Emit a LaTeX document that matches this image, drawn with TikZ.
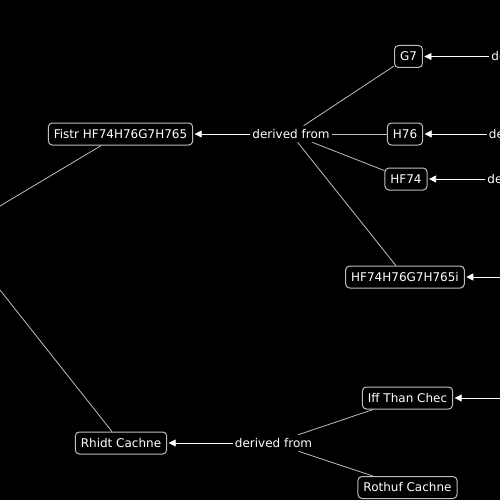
\documentclass[tikz,border=0pt]{standalone}
\usepackage{fontspec}
\setmainfont{DejaVu Sans}
\usetikzlibrary{arrows.meta}
\definecolor{mygray}{RGB}{190,190,190}

\begin{document}
\begin{tikzpicture}[x=1pt,y=-1pt,
  concept/.style={draw=mygray, line width=1pt, rounded corners=4pt, text=white,
    inner xsep=5.5pt, minimum height=22pt, font=\fontsize{12pt}{14pt}\selectfont},
  rel/.style={fill=black, text=white, inner xsep=2pt, inner ysep=3.5pt,
    font=\fontsize{12pt}{14pt}\selectfont},
  link/.style={draw=mygray, line width=0.8pt},
  derive/.style={draw=white, line width=0.8pt, -{Triangle[length=7pt,width=7pt]}, shorten >=1.5pt}]
  \useasboundingbox (0,0) rectangle (500,500);
  \fill[black] (0,0) rectangle (500,500);
  \clip (0,0) rectangle (500,500);

  % Concepts
  \node[concept] (fistr) at (120.5,134) {Fistr HF74H76G7H765};
  \node[concept] (g7) at (408.5,56.5) {G7};
  \node[concept] (h76) at (405,134) {H76};
  \node[concept] (hf74) at (406,179) {HF74};
  \node[concept] (hfi) at (405,277) {HF74H76G7H765i};
  \node[concept] (rhidt) at (121,443) {Rhidt Cachne};
  \node[concept] (iff) at (407.5,398) {Iff Than Chec};
  \node[concept] (rothuf) at (407.5,487.5) {Rothuf Cachne};

  % Relation labels
  \node[rel] (reltop) at (291,134) {derived from};
  \node[rel] (relbot) at (273.5,443) {derived from};
  \node[rel] (relg7) at (530,56.5) {derived from};
  \node[rel] (relh76) at (527.5,134) {derived from};
  \node[rel] (relhf74) at (526,179) {derived from};

  % Free ends beyond the edges
  \coordinate (lfta) at (0,206);
  \coordinate (lftb) at (0,290);
  \coordinate (rthfi) at (500,277);
  \coordinate (rtiff) at (500,398);

  % Links
  \draw[link] (lfta) -- (fistr);
  \draw[link] (lftb) -- (rhidt);
  \draw[link] (reltop) -- (g7);
  \draw[link] (reltop) -- (h76);
  \draw[link] (reltop) -- (hf74);
  \draw[link] (reltop) -- (hfi);
  \draw[link] (relbot) -- (iff);
  \draw[link] (relbot) -- (rothuf);

  % Arrows
  \draw[derive] (reltop) -- (fistr);
  \draw[derive] (relbot) -- (rhidt);
  \draw[derive] (relg7) -- (g7);
  \draw[derive] (relh76) -- (h76);
  \draw[derive] (relhf74) -- (hf74);
  \draw[derive] (rthfi) -- (hfi);
  \draw[derive] (rtiff) -- (iff);
\end{tikzpicture}
\end{document}
